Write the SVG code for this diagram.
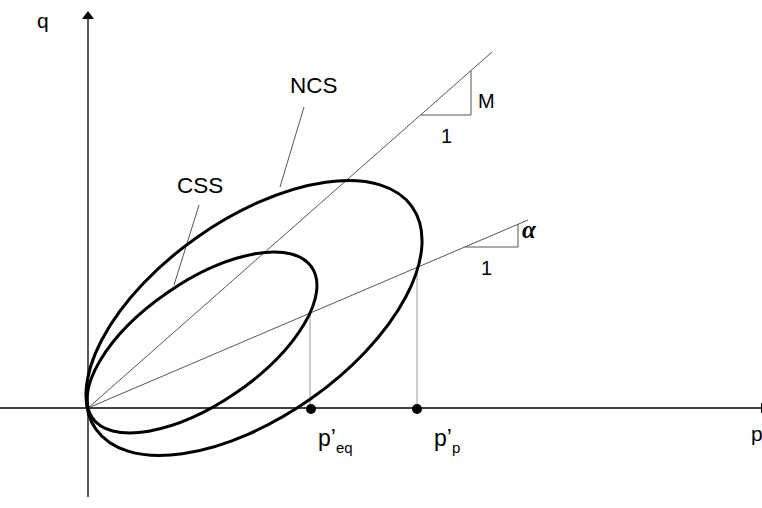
<svg xmlns="http://www.w3.org/2000/svg" width="762" height="508" viewBox="0 0 762 508">
<style>
  .axis { stroke: #000; stroke-width: 1.3; fill: none; }
  .thin { stroke: #555; stroke-width: 1; fill: none; }
  .drop { stroke: #aaa; stroke-width: 1.2; fill: none; }
  .curve { stroke: #000; stroke-width: 3; fill: none; }
  .lbl { font-family: "Liberation Sans", Arial, sans-serif; fill: #000; }
  .greek { font-family: "Liberation Serif", "Times New Roman", serif; font-style: italic; font-weight: bold; fill: #000; }
</style>
<rect width="762" height="508" fill="#fff"/>
<g id="axes">
  <line class="axis" x1="0" y1="408" x2="762" y2="408"/>
  <polygon points="761,403 773,408 761,413" fill="#000"/>
  <line class="axis" x1="88" y1="497" x2="88" y2="18"/>
  <polygon points="88,11 82,19 94,19" fill="#000"/>
  <text class="lbl" x="37" y="28" font-size="21">q</text>
  <text class="lbl" x="751" y="441" font-size="21">p</text>
</g>
<g id="connectors">
  <line class="thin" x1="88" y1="408" x2="492" y2="52"/>
  <line class="thin" x1="88" y1="408" x2="528" y2="220"/>
  <line class="drop" x1="310" y1="313" x2="310" y2="408"/>
  <line class="drop" x1="417" y1="267" x2="417" y2="408"/>
  <line class="thin" x1="304" y1="107" x2="280" y2="187"/>
  <line class="thin" x1="199" y1="205" x2="174" y2="285"/>
</g>
<g id="NCS">
  <ellipse class="curve" cx="254" cy="318" rx="193.3" ry="98.8" transform="rotate(-35.1 254 318)"/>
  <text class="lbl" x="290" y="93" font-size="22.5">NCS</text>
</g>
<g id="CSS">
  <ellipse class="curve" cx="202" cy="342.5" rx="133.1" ry="60.75" transform="rotate(-34.5 202 342.5)"/>
  <text class="lbl" x="177" y="193" font-size="22.5">CSS</text>
</g>
<g id="slopeM">
  <polyline class="thin" points="421,115 471,115 471,70.5"/>
  <text class="lbl" x="478" y="108" font-size="20">M</text>
  <text class="lbl" x="441" y="143" font-size="20">1</text>
</g>
<g id="slopeAlpha">
  <polyline class="thin" points="465,247 518,247 518,224"/>
  <text class="greek" x="522" y="238" font-size="25">α</text>
  <text class="lbl" x="481" y="275" font-size="20">1</text>
</g>
<g id="peq">
  <circle cx="311" cy="409" r="5" fill="#000"/>
  <text class="lbl" x="318" y="446" font-size="23">p’<tspan font-size="15" dy="7">eq</tspan></text>
</g>
<g id="pp">
  <circle cx="417" cy="409" r="5" fill="#000"/>
  <text class="lbl" x="434" y="446" font-size="23">p’<tspan font-size="15" dy="7">p</tspan></text>
</g>
</svg>
